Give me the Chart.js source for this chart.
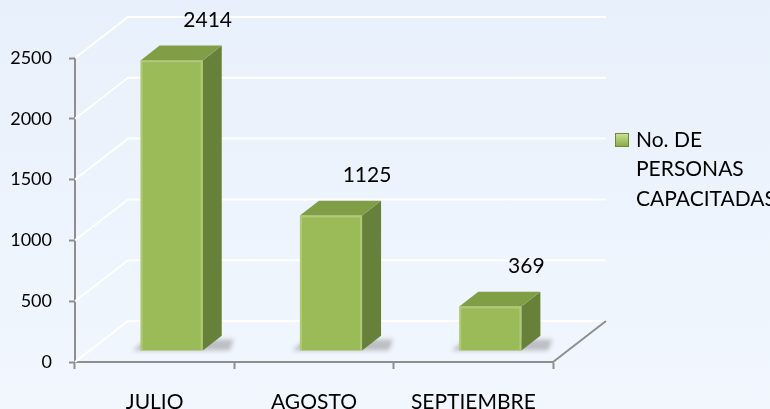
<!DOCTYPE html>
<html>
<head>
<meta charset="utf-8">
<script src="https://cdn.jsdelivr.net/npm/chart.js@4.4.0/dist/chart.umd.min.js"></script>
<style>
  html, body { margin: 0; padding: 0; width: 770px; height: 409px; overflow: hidden; }
  body { background: linear-gradient(#e8f0fb, #f2f7fe); }
  canvas { display: block; }
</style>
</head>
<body>
<canvas id="chart" width="770" height="409"></canvas>
<script>
const months = ["JULIO", "AGOSTO", "SEPTIEMBRE"];
const personas = [2414, 1125, 369];
const legendLines = ["No. DE", "PERSONAS", "CAPACITADAS"];
const yTicks = [0, 500, 1000, 1500, 2000, 2500];

// fake 3d look
const wallDepth = { x: 53, y: -41 };
const barShift = { x: 17, y: -11 };
const barDepth = { x: 19, y: -15 };
const barSquash = 0.99;

const font = "Lato, 'Open Sans', sans-serif";
const textColor = "#000";

const threeD = {
  id: "threeD",
  beforeDatasetsDraw(chart) {
    const { ctx, chartArea: a, scales: { y } } = chart;
    ctx.save();
    ctx.lineWidth = 2;
    ctx.strokeStyle = "rgba(255,255,255,0.95)";
    yTicks.forEach(v => {
      const py = y.getPixelForValue(v);
      ctx.beginPath();
      ctx.moveTo(a.left, py);
      ctx.lineTo(a.left + wallDepth.x, py + wallDepth.y);
      ctx.lineTo(a.right + wallDepth.x, py + wallDepth.y);
      ctx.stroke();
    });
    ctx.strokeStyle = "#8e8e8e";
    ctx.beginPath();
    ctx.moveTo(a.right, a.bottom);
    ctx.lineTo(a.right + wallDepth.x, a.bottom + wallDepth.y);
    ctx.stroke();
    ctx.restore();

    ctx.save();
    ctx.translate(barShift.x, barShift.y + a.bottom);
    ctx.scale(1, barSquash);
    ctx.translate(0, -a.bottom);

    // soft shadow on the floor
    const bars = chart.getDatasetMeta(0).data;
    ctx.save();
    ctx.filter = "blur(2px)";
    ctx.fillStyle = "rgba(90,90,90,0.35)";
    bars.forEach(bar => {
      const l = bar.x - bar.width / 2, r = bar.x + bar.width / 2, b = bar.base;
      ctx.beginPath();
      ctx.moveTo(l - 8, b);
      ctx.lineTo(r + barDepth.x + 8, b);
      ctx.lineTo(r + barDepth.x + 12, b + barDepth.y + 4);
      ctx.lineTo(l + 6, b + barDepth.y + 4);
      ctx.closePath();
      ctx.fill();
    });
    ctx.restore();
  },
  afterDatasetsDraw(chart) {
    const { ctx, chartArea: a } = chart;
    const bars = chart.getDatasetMeta(0).data;
    bars.forEach(bar => {
      const l = bar.x - bar.width / 2, r = bar.x + bar.width / 2;
      const t = bar.y, b = bar.base;
      // side
      ctx.fillStyle = "#67803a";
      ctx.beginPath();
      ctx.moveTo(r, t);
      ctx.lineTo(r + barDepth.x, t + barDepth.y);
      ctx.lineTo(r + barDepth.x, b + barDepth.y);
      ctx.lineTo(r, b);
      ctx.closePath();
      ctx.fill();
      // top
      ctx.fillStyle = "#7f9e46";
      ctx.beginPath();
      ctx.moveTo(l, t);
      ctx.lineTo(r, t);
      ctx.lineTo(r + barDepth.x, t + barDepth.y);
      ctx.lineTo(l + barDepth.x, t + barDepth.y);
      ctx.closePath();
      ctx.fill();
      // light edges on the front face
      ctx.strokeStyle = "rgba(190,212,135,0.6)";
      ctx.lineWidth = 2;
      ctx.beginPath();
      ctx.moveTo(l + 1, b);
      ctx.lineTo(l + 1, t + 1);
      ctx.lineTo(r - 1, t + 1);
      ctx.lineTo(r - 1, b);
      ctx.stroke();
    });
    ctx.restore();

    // value labels
    ctx.save();
    ctx.font = "21px " + font;
    ctx.fillStyle = textColor;
    ctx.textAlign = "center";
    ctx.textBaseline = "middle";
    bars.forEach((bar, i) => {
      const sx = bar.x + barShift.x;
      const sy = a.bottom + barShift.y + (bar.y - a.bottom) * barSquash;
      ctx.fillText(String(personas[i]), sx + 36, sy - 40);
    });
    ctx.restore();
  },
  afterDraw(chart) {
    const { ctx } = chart;
    ctx.save();
    const lx = 615, ly = 133, s = 14;
    const g = ctx.createLinearGradient(0, ly, 0, ly + s);
    g.addColorStop(0, "#cfe39a");
    g.addColorStop(1, "#86a845");
    ctx.fillStyle = g;
    ctx.fillRect(lx, ly, s, s);
    ctx.strokeStyle = "#6e8a37";
    ctx.lineWidth = 1;
    ctx.strokeRect(lx + 0.5, ly + 0.5, s - 1, s - 1);
    ctx.font = "21px " + font;
    ctx.fillStyle = textColor;
    ctx.textBaseline = "middle";
    legendLines.forEach((line, i) => {
      ctx.fillText(line, 636, 140 + i * 29.5);
    });
    ctx.restore();
  }
};

const ctx = document.getElementById("chart").getContext("2d");

new Chart(ctx, {
  type: "bar",
  data: {
    labels: months,
    datasets: [{
      label: legendLines.join(" "),
      data: personas,
      backgroundColor: "#9bbb59",
      borderWidth: 0,
      barPercentage: 0.78,
      categoryPercentage: 0.5,
      clip: false
    }]
  },
  options: {
    responsive: false,
    animation: false,
    layout: { padding: { top: 58, right: 217, left: 0, bottom: 0 } },
    plugins: {
      legend: { display: false },
      tooltip: { enabled: false }
    },
    scales: {
      x: {
        afterFit(s) { s.height = 47; },
        grid: {
          offset: true,
          drawOnChartArea: false,
          drawTicks: true,
          tickLength: 7,
          tickColor: "#8e8e8e",
          tickWidth: 2
        },
        border: { display: true, color: "#8e8e8e", width: 2 },
        ticks: {
          color: textColor,
          padding: 21,
          font: { family: font, size: 21 }
        }
      },
      y: {
        min: 0,
        max: 2500,
        afterFit(s) { s.width = 75; },
        grid: {
          drawOnChartArea: false,
          drawTicks: true,
          tickLength: 6,
          tickColor: "#8e8e8e",
          tickWidth: 2
        },
        border: { display: true, color: "#8e8e8e", width: 2 },
        ticks: {
          stepSize: 500,
          color: textColor,
          padding: 17,
          font: { family: font, size: 18 },
          callback: v => String(v)
        }
      }
    }
  },
  plugins: [threeD]
});
</script>
</body>
</html>
